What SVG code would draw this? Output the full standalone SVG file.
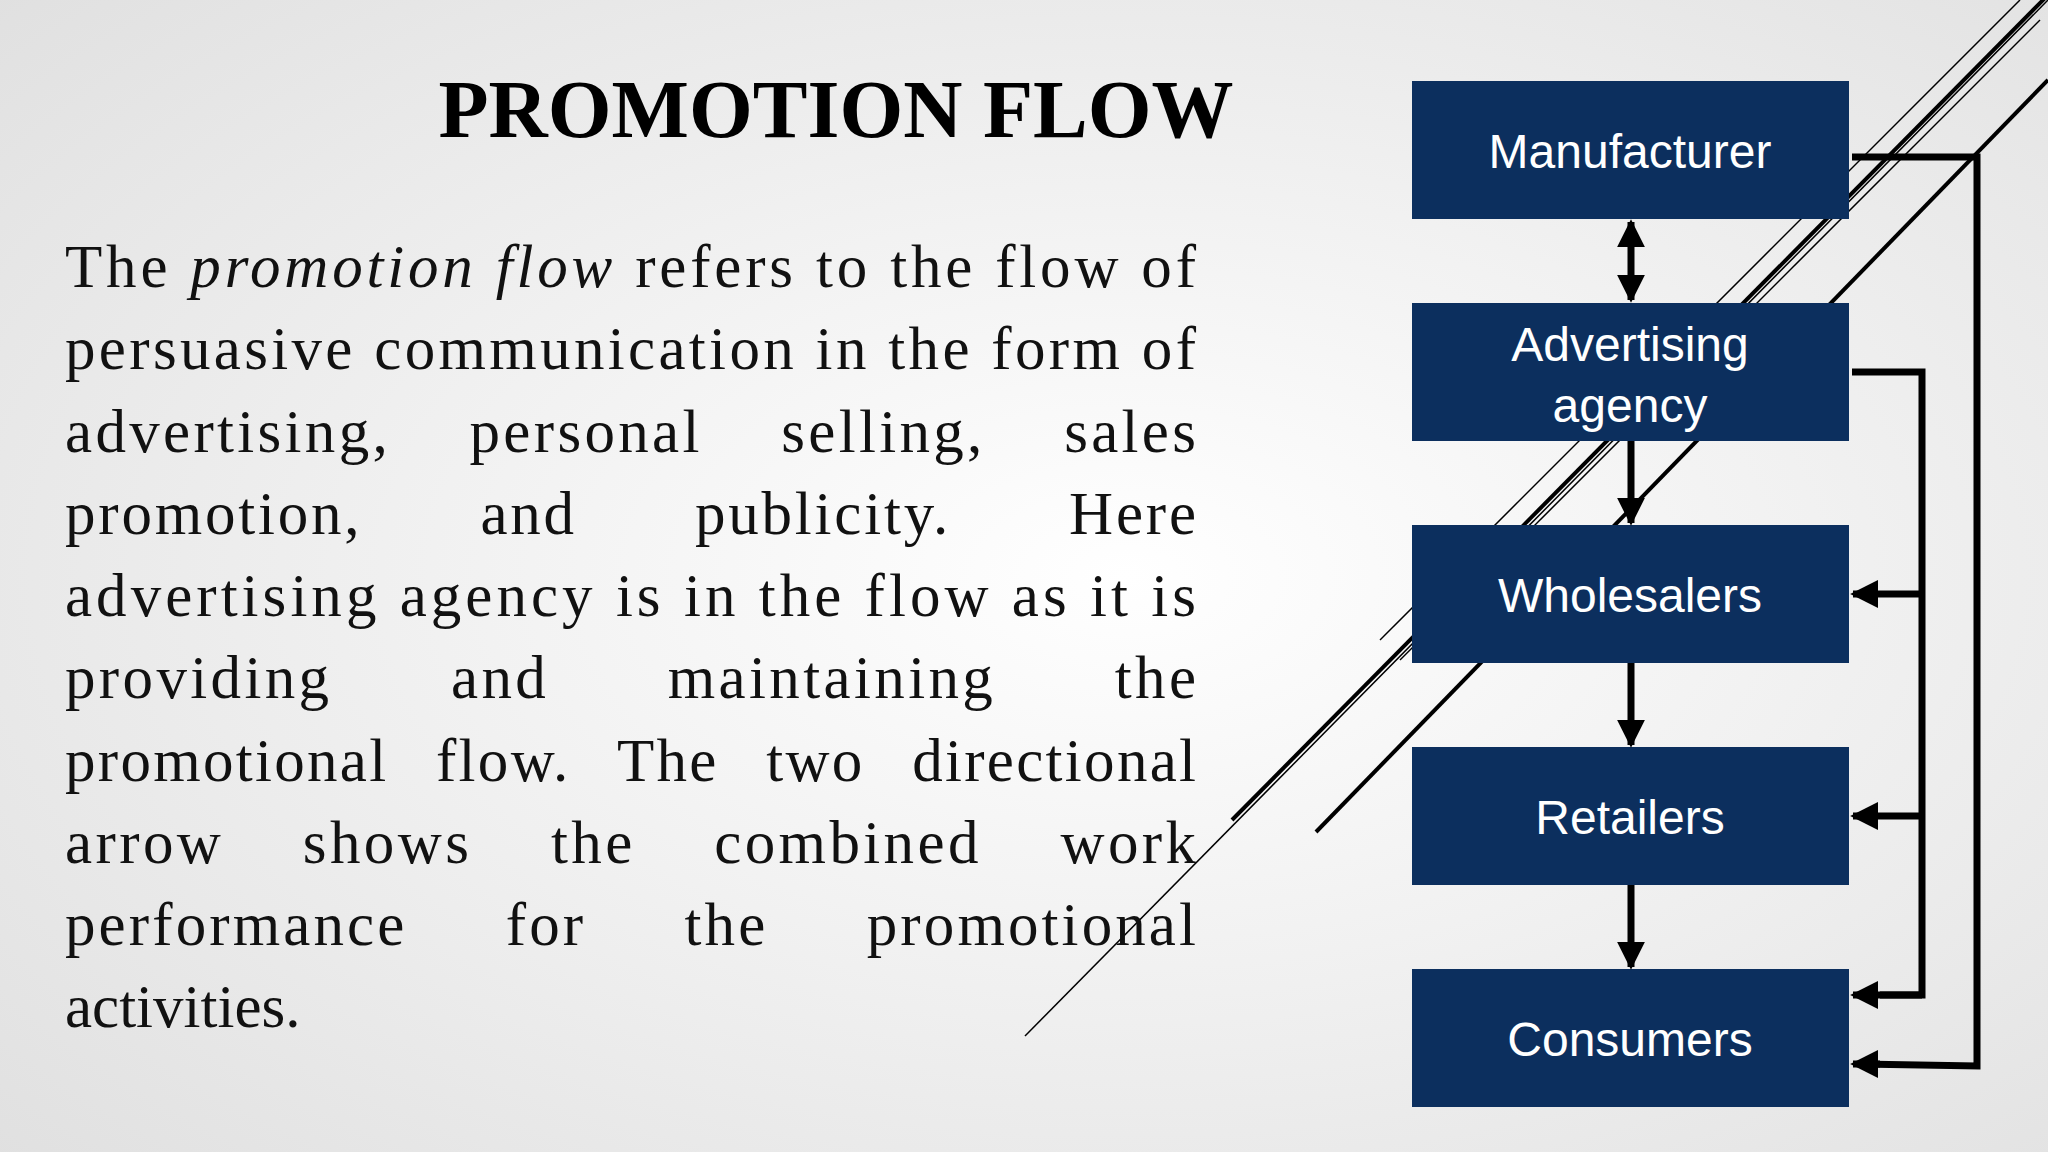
<svg xmlns="http://www.w3.org/2000/svg" width="2048" height="1152" viewBox="0 0 2048 1152">
<defs>
<radialGradient id="bg" cx="0.55" cy="0.5" r="0.8"><stop offset="0" stop-color="#ffffff"/><stop offset="1" stop-color="#dedede"/></radialGradient>
<marker id="ah" viewBox="0 0 10 10" refX="9" refY="5" markerWidth="4" markerHeight="4" orient="auto-start-reverse" markerUnits="strokeWidth"><path d="M0,0 L10,5 L0,10 z" fill="#000"/></marker>
<style>
.b{fill:#0c2f5e}
.bt{font-family:"Liberation Sans",Arial,sans-serif;font-size:48px;fill:#fff;text-anchor:middle}
.p{font-family:"Liberation Serif","Times New Roman",serif;font-size:61px;fill:#111}
.c{fill:none;stroke:#000;stroke-width:7}
.d{stroke:#000;fill:none}
</style>
</defs>
<rect width="2048" height="1152" fill="url(#bg)"/>
<g id="decor">
<line class="d" x1="1025" y1="1036" x2="2048" y2="0" stroke-width="1.5"/>
<line class="d" x1="1232" y1="820" x2="2048" y2="-5" stroke-width="4"/>
<line class="d" x1="1316" y1="832" x2="2048" y2="80" stroke-width="4"/>
<line class="d" x1="1380" y1="640" x2="2020" y2="0" stroke-width="1.5"/>
<line class="d" x1="1400" y1="660" x2="2040" y2="20" stroke-width="1.5"/>
</g>
<text x="836" y="137" text-anchor="middle" font-family="Liberation Serif,serif" font-weight="bold" font-size="82" fill="#000">PROMOTION FLOW</text>
<g id="body" class="p">
<text x="65" y="287" textLength="1131" lengthAdjust="spacing">The <tspan font-style="italic">promotion flow</tspan> refers to the flow of</text>
<text x="65" y="369" textLength="1131" lengthAdjust="spacing">persuasive communication in the form of</text>
<text x="65" y="452" textLength="1131" lengthAdjust="spacing" word-spacing="60">advertising, personal selling, sales</text>
<text x="65" y="534" textLength="1131" lengthAdjust="spacing" word-spacing="100">promotion, and publicity. Here</text>
<text x="65" y="616" textLength="1131" lengthAdjust="spacing">advertising agency is in the flow as it is</text>
<text x="65" y="698" textLength="1131" lengthAdjust="spacing" word-spacing="100">providing and maintaining the</text>
<text x="65" y="781" textLength="1131" lengthAdjust="spacing" word-spacing="30">promotional flow. The two directional</text>
<text x="65" y="863" textLength="1131" lengthAdjust="spacing" word-spacing="60">arrow shows the combined work</text>
<text x="65" y="945" textLength="1131" lengthAdjust="spacing" word-spacing="80">performance for the promotional</text>
<text x="65" y="1027">activities.</text>
</g>
<g id="n1"><rect class="b" x="1412" y="81" width="437" height="138"/><text class="bt" x="1630" y="168">Manufacturer</text></g>
<g id="n2"><rect class="b" x="1412" y="303" width="437" height="138"/><text class="bt" x="1630" y="361">Advertising</text><text class="bt" x="1630" y="422">agency</text></g>
<g id="n3"><rect class="b" x="1412" y="525" width="437" height="138"/><text class="bt" x="1630" y="612">Wholesalers</text></g>
<g id="n4"><rect class="b" x="1412" y="747" width="437" height="138"/><text class="bt" x="1630" y="834">Retailers</text></g>
<g id="n5"><rect class="b" x="1412" y="969" width="437" height="138"/><text class="bt" x="1630" y="1056">Consumers</text></g>
<g id="connectors">
<line class="c" x1="1631" y1="222" x2="1631" y2="300" stroke-width="10" marker-start="url(#ah)" marker-end="url(#ah)"/>
<line class="c" x1="1631" y1="441" x2="1631" y2="523" marker-end="url(#ah)" stroke-width="8"/>
<line class="c" x1="1631" y1="663" x2="1631" y2="745" marker-end="url(#ah)" stroke-width="8"/>
<line class="c" x1="1631" y1="885" x2="1631" y2="967" marker-end="url(#ah)" stroke-width="8"/>
<polyline class="c" points="1852,157 1977,157 1977,1066 1860,1064"/>
<line class="c" x1="1880" y1="1064" x2="1853" y2="1064" marker-end="url(#ah)"/>
<polyline class="c" points="1852,372 1922,372 1922,995 1880,995"/>
<line class="c" x1="1922" y1="995" x2="1853" y2="995" marker-end="url(#ah)"/>
<line class="c" x1="1922" y1="594" x2="1853" y2="594" marker-end="url(#ah)"/>
<line class="c" x1="1922" y1="816" x2="1853" y2="816" marker-end="url(#ah)"/>
</g>
</svg>
